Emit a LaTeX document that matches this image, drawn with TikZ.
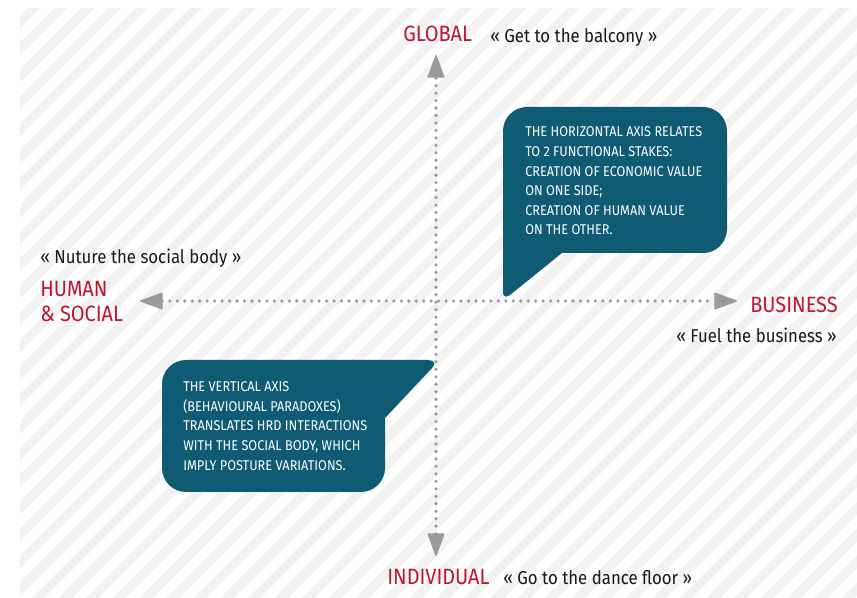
\documentclass[tikz,border=0pt]{standalone}
\usepackage{fontspec}
\setmainfont[FakeStretch=0.9]{Fira Sans}
\usetikzlibrary{arrows.meta}
\definecolor{teal1}{RGB}{14,91,115}
\definecolor{redlab}{RGB}{190,22,46}
\definecolor{stripe}{RGB}{242,242,242}
\definecolor{axisgray}{RGB}{155,155,155}
\definecolor{quotec}{RGB}{25,25,25}
\begin{document}
\begin{tikzpicture}[x=0.75pt,y=-0.75pt,
  redlabel/.style={text=redlab,font=\fontsize{16.6}{18.75}\selectfont,inner sep=0pt,anchor=base west,align=left},
  quote/.style={text=quotec,font=\fontsize{14}{17}\selectfont,inner sep=0pt,anchor=base west},
  bubble/.style={fill=teal1},
  bubbletext/.style={text=white,font=\fontsize{10.6}{14.7}\selectfont,inner sep=0pt,anchor=base west,align=left},
  axisline/.style={axisgray,line width=2.7pt,dash pattern=on 0pt off 5.6pt,line cap=round,
    {Triangle[length=18pt,width=13pt,line width=1pt,round]}-{Triangle[length=18pt,width=13pt,line width=1pt,round]}}]
% canvas
\useasboundingbox (0,0) rectangle (857,598);
\fill[white] (0,0) rectangle (857,598);
\begin{scope}
  \clip (20,9) rectangle (857,598);
  \foreach \k in {-3,...,56}{
    \draw[stripe,line width=6.8pt] ({33+27*\k+12},-3) -- ({33+27*\k-600},{9+600});
  }
\end{scope}
% axes
\coordinate (gtop) at (436,55);
\coordinate (gbot) at (436,556);
\coordinate (hleft) at (140,301);
\coordinate (hright) at (737,301);
\draw[axisline] (gbot) -- (gtop);
\draw[axisline] (hleft) -- (hright);
% labels (base anchor = baseline of last line)
\node[redlabel] (global) at (403,42) {GLOBAL};
\node[quote] (qglobal) at (490,43) {« Get to the balcony »};
\node[quote] (qhuman) at (40,264) {« Nuture the social body »};
\node[redlabel] (human) at (40,322) {HUMAN\\\& SOCIAL};
\node[redlabel] (business) at (750,313) {BUSINESS};
\node[quote] (qbusiness) at (676,343) {« Fuel the business »};
\node[redlabel] (individual) at (387,584) {INDIVIDUAL};
\node[quote] (qindividual) at (503,584) {« Go to the dance floor »};
% bubble 1
\fill[bubble] (503,292) -- (503,131) arc[start angle=180,end angle=270,radius=24]
  -- (703,107) arc[start angle=270,end angle=360,radius=24]
  -- (727,229) arc[start angle=0,end angle=90,radius=24]
  -- (562,253) -- (510,295) .. controls (506,298) and (503,297) .. (503,292) -- cycle;
\node[bubbletext] (t1) at (525,235) {THE HORIZONTAL AXIS RELATES\\TO 2 FUNCTIONAL STAKES:\\CREATION OF ECONOMIC VALUE\\ON ONE SIDE;\\CREATION OF HUMAN VALUE\\ON THE OTHER.};
% bubble 2
\fill[bubble] (186,360) -- (428,360) .. controls (434,360) and (436,364) .. (432,368)
  -- (385,418) -- (385,468) arc[start angle=0,end angle=90,radius=24]
  -- (186,492) arc[start angle=90,end angle=180,radius=24]
  -- (162,384) arc[start angle=180,end angle=270,radius=24] -- cycle;
\node[bubbletext] (t2) at (183,470) {THE VERTICAL AXIS\\(BEHAVIOURAL PARADOXES)\\TRANSLATES HRD INTERACTIONS\\WITH THE SOCIAL BODY, WHICH\\IMPLY POSTURE VARIATIONS.};
\end{tikzpicture}
\end{document}
